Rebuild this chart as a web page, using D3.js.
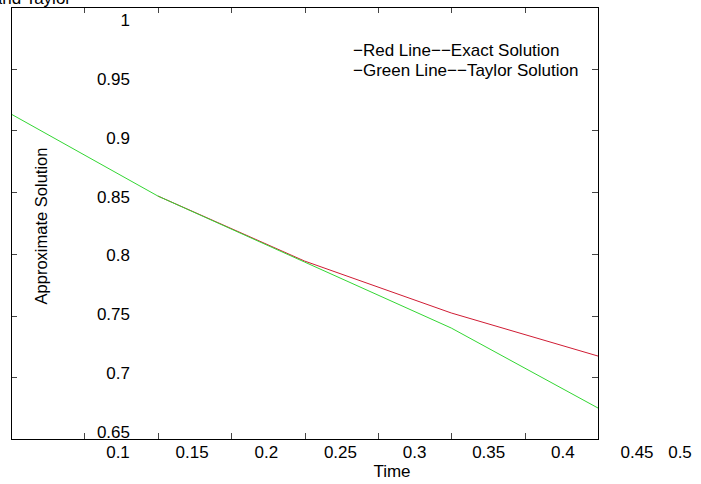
<!DOCTYPE html>
<html>
<head>
<meta charset="utf-8">
<script src="https://cdn.jsdelivr.net/npm/d3@7"></script>
<style>
  body { margin: 0; background: #fff; }
  svg text { font-family: "Liberation Sans", Arial, sans-serif; fill: #000; }
</style>
</head>
<body>
<div id="chart"></div>
<script>
const width = 701;
const height = 484;

// Data
const timeExact = [0.15, 0.25, 0.35, 0.45];
const exactValues = [0.8469, 0.7942, 0.7521, 0.7172];
const timeTaylor = [0.05, 0.15, 0.25, 0.35, 0.45];
const taylorValues = [0.9133, 0.8469, 0.7934, 0.7399, 0.6751];

const xTickValues = [0.1, 0.15, 0.2, 0.25, 0.3, 0.35, 0.4];
const yTickValues = [0.7, 0.75, 0.8, 0.85, 0.9, 0.95];
const xTickLabels = ["0.1", "0.15", "0.2", "0.25", "0.3", "0.35", "0.4", "0.45", "0.5"];
const yTickLabels = ["0.65", "0.7", "0.75", "0.8", "0.85", "0.9", "0.95", "1"];
const legendLines = ["\u2212Red Line\u2212\u2212Exact Solution", "\u2212Green Line\u2212\u2212Taylor Solution"];

// Box
const box = { left: 11, right: 598, top: 7, bottom: 439 };

const svg = d3.select("#chart")
    .append("svg")
    .attr("width", width)
    .attr("height", height);

// Scales
const x = d3.scaleLinear().domain([0.05, 0.45]).range([box.left, box.right]);
const y = d3.scaleLinear().domain([0.65, 1]).range([box.bottom, box.top]);

// tick labels sit off the ticks in the original
const xLab = d3.scaleLinear().domain([0.1, 0.45]).range([118, 637]);
const yLab = d3.scaleLinear().domain([0.65, 1]).range([438, 26]);

// Lines
const line = d3.line().x(d => x(d[0])).y(d => y(d[1]));

svg.append("path")
    .datum(d3.zip(timeExact, exactValues))
    .attr("fill", "none")
    .attr("stroke", "#d01c34")
    .attr("stroke-width", 1)
    .attr("d", line);

svg.append("path")
    .datum(d3.zip(timeTaylor, taylorValues))
    .attr("fill", "none")
    .attr("stroke", "#33d633")
    .attr("stroke-width", 1)
    .attr("d", line);

// Ticks, inward on all four sides
const tickLen = 6;
const ticks = svg.append("g").attr("stroke", "#444").attr("stroke-width", 1);

xTickValues.forEach(v => {
    const px = Math.round(x(v)) + 0.5;
    ticks.append("line").attr("x1", px).attr("x2", px)
        .attr("y1", box.bottom).attr("y2", box.bottom - tickLen);
    ticks.append("line").attr("x1", px).attr("x2", px)
        .attr("y1", box.top).attr("y2", box.top + tickLen);
});
yTickValues.forEach(v => {
    const py = Math.round(y(v)) + 0.5;
    ticks.append("line").attr("x1", box.left).attr("x2", box.left + tickLen)
        .attr("y1", py).attr("y2", py);
    ticks.append("line").attr("x1", box.right).attr("x2", box.right - tickLen)
        .attr("y1", py).attr("y2", py);
});

// Box outline
svg.append("rect")
    .attr("x", box.left + 0.5)
    .attr("y", box.top + 0.5)
    .attr("width", box.right - box.left)
    .attr("height", box.bottom - box.top)
    .attr("fill", "none")
    .attr("stroke", "#000")
    .attr("stroke-width", 1);

// Tick labels
const fs = 17;
svg.append("g").selectAll("text")
    .data(xTickLabels)
    .enter()
    .append("text")
    .attr("x", d => Math.min(xLab(+d), 680))
    .attr("y", 458)
    .attr("text-anchor", "middle")
    .style("font-size", fs + "px")
    .text(d => d);

svg.append("g").selectAll("text")
    .data(yTickLabels)
    .enter()
    .append("text")
    .attr("x", 130)
    .attr("y", d => yLab(+d))
    .attr("text-anchor", "end")
    .style("font-size", fs + "px")
    .text(d => d);

// Axis titles
svg.append("text")
    .attr("x", 392)
    .attr("y", 477)
    .attr("text-anchor", "middle")
    .style("font-size", "17px")
    .text("Time");

svg.append("text")
    .attr("transform", "translate(47,226) rotate(-90)")
    .attr("text-anchor", "middle")
    .style("font-size", "16.5px")
    .text("Approximate Solution");

// Title, clipped by the top edge as in the original
svg.append("text")
    .attr("x", 71)
    .attr("y", 4)
    .attr("text-anchor", "end")
    .style("font-size", "17px")
    .text("Exact and Taylor");

// Legend text
svg.append("g").selectAll("text")
    .data(legendLines)
    .enter()
    .append("text")
    .attr("x", 353)
    .attr("y", (d, i) => 56 + i * 20)
    .style("font-size", "17px")
    .text(d => d);
</script>
</body>
</html>
